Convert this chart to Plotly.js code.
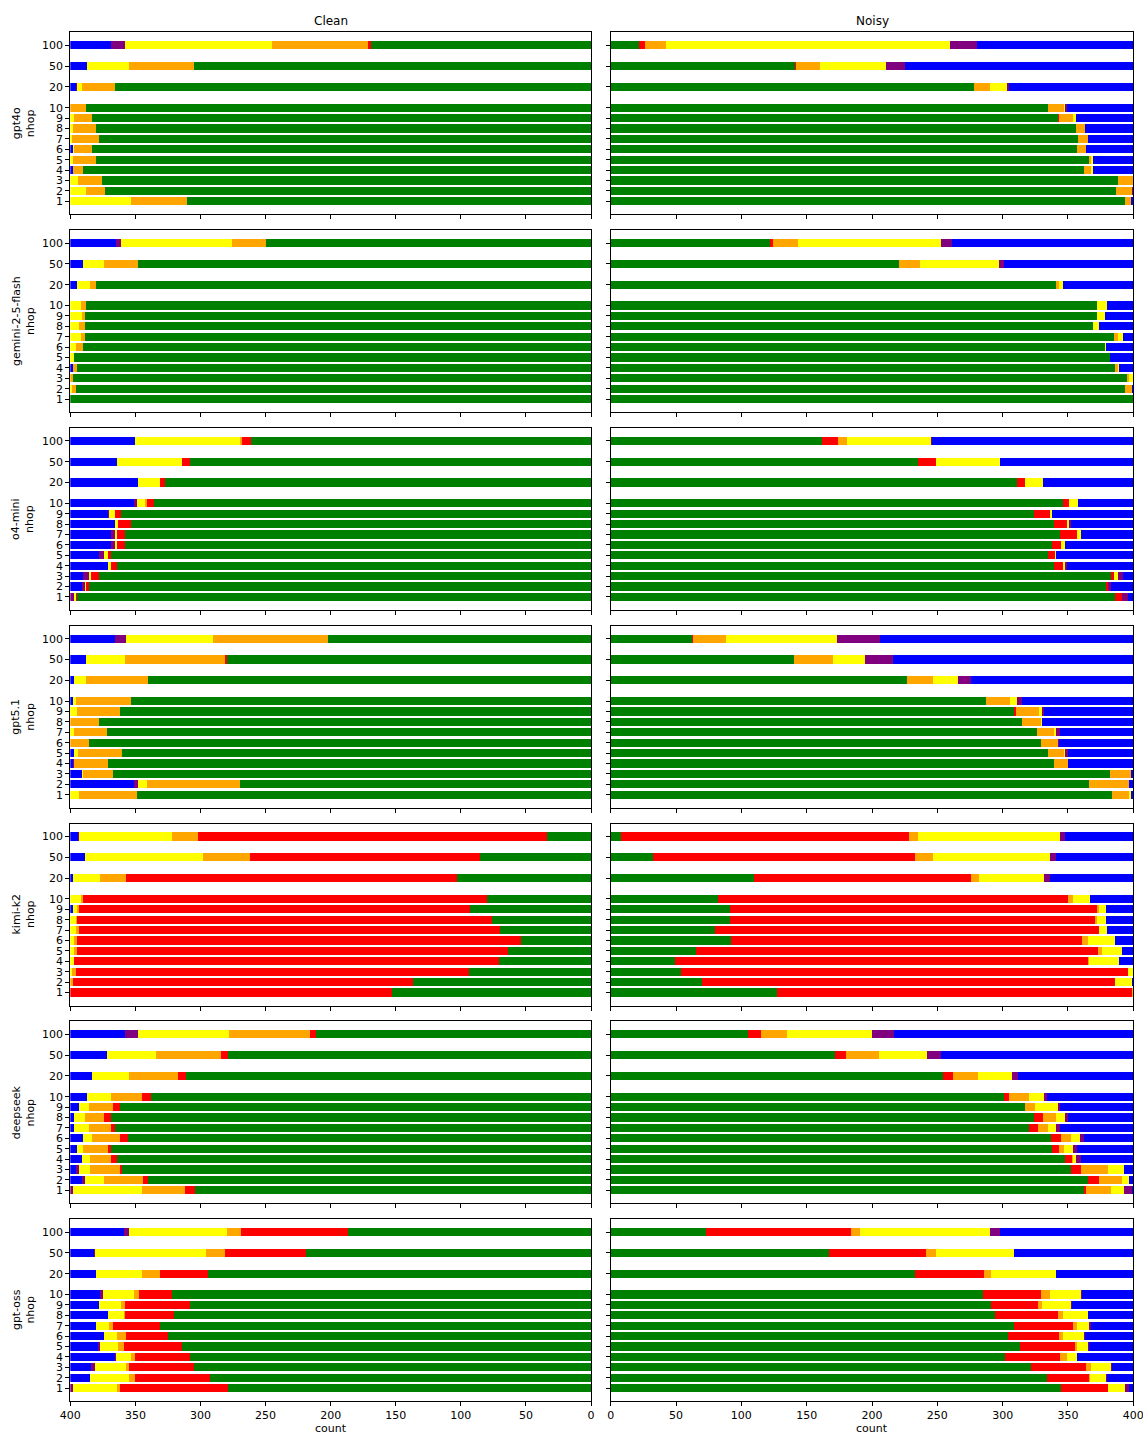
<!DOCTYPE html>
<html>
<head>
<meta charset="utf-8">
<script src="https://cdn.plot.ly/plotly-3.0.1.min.js"></script>
<style>html,body{margin:0;padding:0;background:#fff;}#chart{width:1143px;height:1435px;}</style>
</head>
<body>
<div id="chart"></div>
<script>
// ---- categories ----
const nhopLabels = ['1','2','3','4','5','6','7','8','9','10','20','50','100'];
const models = ['gpt4o','gemini-2-5-flash','o4-mini','gpt5.1','kimi-k2','deepseek','gpt-oss'];
const conditions = ['Clean','Noisy'];
const xTickVals = [0,50,100,150,200,250,300,350,400];
const outcomeColors = ['#008000','#ff0000','#ffa500','#ffff00','#800080','#0000ff']; // green, red, orange, yellow, purple, blue

// ---- values (order of nhop: 1..10, 20, 50, 100) ----
// gpt4o
const gpt4o_clean_green  = [310,373,376,390,380,383,378,380,383,388,366,305,169];
const gpt4o_clean_red    = [0,0,0,0,0,0,0,0,0,0,0,0,2];
const gpt4o_clean_orange = [43,15,18,8,18,14,21,18,14,12,25,50,74];
const gpt4o_clean_yellow = [47,12,6,0,2,1,1,2,3,0,4,32,113];
const gpt4o_clean_purple = [0,0,0,0,0,0,0,0,0,0,1,0,11];
const gpt4o_clean_blue   = [0,0,0,2,0,2,0,0,0,0,4,13,31];
const gpt4o_noisy_green  = [394,387,388,362,366,357,358,356,342,335,278,141,22];
const gpt4o_noisy_red    = [0,0,0,0,0,0,0,0,1,0,0,1,4];
const gpt4o_noisy_orange = [4,12,12,6,2,7,7,7,11,12,12,18,16];
const gpt4o_noisy_yellow = [0,0,0,1,1,0,0,0,2,1,13,51,218];
const gpt4o_noisy_purple = [0,1,0,0,0,0,0,0,0,1,2,14,20];
const gpt4o_noisy_blue   = [2,0,0,31,31,36,35,37,44,51,95,175,120];
// gemini-2-5-flash
const gemini_clean_green  = [400,396,398,395,397,390,389,389,389,388,380,348,250];
const gemini_clean_red    = [0,0,0,0,0,0,0,0,0,0,0,0,0];
const gemini_clean_orange = [0,3,2,3,0,6,3,4,2,4,5,26,26];
const gemini_clean_yellow = [0,1,0,0,3,4,8,7,9,8,10,16,85];
const gemini_clean_purple = [0,0,0,0,0,0,0,0,0,0,0,0,4];
const gemini_clean_blue   = [0,0,0,2,0,0,0,0,0,0,5,10,35];
const gemini_noisy_green  = [400,394,395,386,382,378,385,369,372,372,341,221,122];
const gemini_noisy_red    = [0,0,0,0,0,0,0,0,0,0,0,0,2];
const gemini_noisy_orange = [0,5,2,2,0,0,3,0,0,0,2,16,19];
const gemini_noisy_yellow = [0,0,3,1,0,1,4,5,6,8,3,60,110];
const gemini_noisy_purple = [0,0,0,0,0,0,0,0,0,0,0,4,8];
const gemini_noisy_blue   = [0,1,0,11,18,21,8,26,22,20,54,99,139];
// o4-mini
const o4mini_clean_green  = [395,386,378,364,369,358,358,353,361,336,327,308,261];
const o4mini_clean_red    = [1,2,6,5,2,6,6,10,5,5,4,6,7];
const o4mini_clean_orange = [0,0,0,0,0,0,0,0,0,2,0,0,2];
const o4mini_clean_yellow = [1,1,2,2,3,2,2,3,4,6,17,50,80];
const o4mini_clean_purple = [3,2,4,0,4,3,3,0,1,2,0,0,0];
const o4mini_clean_blue   = [0,9,10,29,22,31,31,34,29,49,52,36,50];
const o4mini_noisy_green  = [386,379,383,339,335,338,344,339,324,346,311,235,162];
const o4mini_noisy_red    = [5,2,2,7,5,7,13,10,12,5,6,14,12];
const o4mini_noisy_orange = [0,0,0,0,0,0,0,0,0,0,0,0,7];
const o4mini_noisy_yellow = [0,0,3,2,1,3,3,2,2,7,14,49,64];
const o4mini_noisy_purple = [5,2,4,1,0,0,0,1,0,0,0,0,1];
const o4mini_noisy_blue   = [4,17,8,51,59,52,40,48,62,42,69,102,154];
// gpt5.1
const gpt51_clean_green  = [349,270,367,371,360,386,372,378,362,353,340,280,202];
const gpt51_clean_red    = [0,0,0,0,0,0,0,0,0,0,0,1,0];
const gpt51_clean_orange = [44,71,23,26,34,14,25,22,33,43,48,77,88];
const gpt51_clean_yellow = [7,7,1,0,3,0,3,0,5,2,9,30,67];
const gpt51_clean_purple = [0,3,0,1,0,0,0,0,0,0,0,0,9];
const gpt51_clean_blue   = [0,49,9,2,3,0,0,0,0,2,3,12,34];
const gpt51_noisy_green  = [384,366,382,339,335,329,326,315,309,287,227,140,62];
const gpt51_noisy_red    = [0,0,0,0,0,0,0,0,1,0,0,0,1];
const gpt51_noisy_orange = [13,31,16,11,12,13,13,14,18,19,20,30,25];
const gpt51_noisy_yellow = [1,0,0,0,1,0,2,1,2,5,19,25,85];
const gpt51_noisy_purple = [0,0,0,0,2,1,3,0,2,4,10,21,33];
const gpt51_noisy_blue   = [2,3,2,50,50,57,56,70,68,85,124,184,194];
// kimi-k2
const kimi_clean_green  = [153,137,94,71,64,54,70,76,93,80,103,85,34];
const kimi_clean_red    = [247,261,302,326,331,341,323,319,300,310,254,177,268];
const kimi_clean_orange = [0,2,3,0,2,2,3,1,2,2,20,36,20];
const kimi_clean_yellow = [0,0,1,3,3,3,4,4,3,8,21,91,71];
const kimi_clean_purple = [0,0,0,0,0,0,0,0,0,0,0,0,1];
const kimi_clean_blue   = [0,0,0,0,0,0,0,0,2,0,2,11,6];
const kimi_noisy_green  = [127,70,54,49,65,92,80,91,91,82,110,32,8];
const kimi_noisy_red    = [272,316,342,316,308,269,294,280,281,268,166,201,220];
const kimi_noisy_orange = [1,0,0,1,3,4,0,1,2,4,6,14,7];
const kimi_noisy_yellow = [0,13,4,23,15,21,6,7,5,13,50,89,109];
const kimi_noisy_purple = [0,0,0,0,0,0,0,0,0,0,4,5,4];
const kimi_noisy_blue   = [0,1,0,11,9,14,20,21,21,33,64,59,52];
// deepseek
const deepseek_clean_green  = [304,340,360,364,369,356,366,369,362,338,311,279,211];
const deepseek_clean_red    = [8,4,2,5,2,6,3,5,5,7,6,5,5];
const deepseek_clean_orange = [33,30,23,16,19,21,17,15,19,24,38,50,62];
const deepseek_clean_yellow = [53,15,8,6,5,7,11,8,7,18,28,38,70];
const deepseek_clean_purple = [2,2,3,0,0,0,0,0,0,0,0,0,10];
const deepseek_clean_blue   = [0,9,4,9,5,10,3,3,7,13,17,28,42];
const deepseek_noisy_green  = [362,365,352,348,338,337,320,324,317,301,254,172,105];
const deepseek_noisy_red    = [2,9,8,5,5,8,7,7,0,4,8,8,10];
const deepseek_noisy_orange = [19,17,21,1,4,7,8,10,8,15,19,25,20];
const deepseek_noisy_yellow = [10,6,12,2,7,7,6,7,17,12,26,37,65];
const deepseek_noisy_purple = [6,0,0,4,3,3,3,2,2,2,5,11,17];
const deepseek_noisy_blue   = [1,3,7,40,43,38,56,50,56,66,88,147,183];
// gpt-oss
const gptoss_clean_green  = [279,293,305,308,314,325,331,320,308,322,294,219,187];
const gptoss_clean_red    = [83,57,50,42,45,32,36,38,50,25,37,62,82];
const gptoss_clean_orange = [2,5,2,3,4,7,3,1,3,4,14,15,11];
const gptoss_clean_yellow = [34,30,24,12,14,10,10,12,17,24,35,85,75];
const gptoss_clean_purple = [2,0,3,1,2,0,0,0,0,2,0,1,4];
const gptoss_clean_blue   = [0,15,16,34,21,26,20,29,22,23,20,18,41];
const gptoss_noisy_green  = [345,334,322,302,313,304,309,294,291,285,233,167,73];
const gptoss_noisy_red    = [36,32,42,42,42,39,45,48,36,44,53,74,111];
const gptoss_noisy_orange = [0,1,4,5,2,3,3,4,3,7,5,8,7];
const gptoss_noisy_yellow = [13,12,15,8,8,16,9,19,22,24,50,60,99];
const gptoss_noisy_purple = [3,1,1,0,1,1,2,0,1,1,0,0,8];
const gptoss_noisy_blue   = [3,20,16,43,34,37,32,35,47,39,59,91,102];

// panels: [model row][condition] -> series in stacking order (green, red, orange, yellow, purple, blue)
const panelSeries = [
  [[gpt4o_clean_green,gpt4o_clean_red,gpt4o_clean_orange,gpt4o_clean_yellow,gpt4o_clean_purple,gpt4o_clean_blue],
   [gpt4o_noisy_green,gpt4o_noisy_red,gpt4o_noisy_orange,gpt4o_noisy_yellow,gpt4o_noisy_purple,gpt4o_noisy_blue]],
  [[gemini_clean_green,gemini_clean_red,gemini_clean_orange,gemini_clean_yellow,gemini_clean_purple,gemini_clean_blue],
   [gemini_noisy_green,gemini_noisy_red,gemini_noisy_orange,gemini_noisy_yellow,gemini_noisy_purple,gemini_noisy_blue]],
  [[o4mini_clean_green,o4mini_clean_red,o4mini_clean_orange,o4mini_clean_yellow,o4mini_clean_purple,o4mini_clean_blue],
   [o4mini_noisy_green,o4mini_noisy_red,o4mini_noisy_orange,o4mini_noisy_yellow,o4mini_noisy_purple,o4mini_noisy_blue]],
  [[gpt51_clean_green,gpt51_clean_red,gpt51_clean_orange,gpt51_clean_yellow,gpt51_clean_purple,gpt51_clean_blue],
   [gpt51_noisy_green,gpt51_noisy_red,gpt51_noisy_orange,gpt51_noisy_yellow,gpt51_noisy_purple,gpt51_noisy_blue]],
  [[kimi_clean_green,kimi_clean_red,kimi_clean_orange,kimi_clean_yellow,kimi_clean_purple,kimi_clean_blue],
   [kimi_noisy_green,kimi_noisy_red,kimi_noisy_orange,kimi_noisy_yellow,kimi_noisy_purple,kimi_noisy_blue]],
  [[deepseek_clean_green,deepseek_clean_red,deepseek_clean_orange,deepseek_clean_yellow,deepseek_clean_purple,deepseek_clean_blue],
   [deepseek_noisy_green,deepseek_noisy_red,deepseek_noisy_orange,deepseek_noisy_yellow,deepseek_noisy_purple,deepseek_noisy_blue]],
  [[gptoss_clean_green,gptoss_clean_red,gptoss_clean_orange,gptoss_clean_yellow,gptoss_clean_purple,gptoss_clean_blue],
   [gptoss_noisy_green,gptoss_noisy_red,gptoss_noisy_orange,gptoss_noisy_yellow,gptoss_noisy_purple,gptoss_noisy_blue]]
];

// ---- geometry ----
const W = 1143, H = 1435;
const colX = [[70.3, 591], [610.7, 1133.3]];
const rowTop0 = 32.3, rowStep = 197.8, panelH = 182;
const FONT = 'DejaVu Sans, Liberation Sans, sans-serif';
// slot position: nhop 1..10 on 1..10, then 20/50/100 with a gap
const slot = i => (i < 10 ? i + 1 : 10 + 2 * (i - 9));
const yPos = nhopLabels.map((_, i) => slot(i));

const traces = [];
const layout = {
  width: W, height: H,
  margin: {l: 0, r: 0, t: 0, b: 0},
  paper_bgcolor: '#ffffff', plot_bgcolor: '#ffffff',
  barmode: 'stack', showlegend: false,
  font: {family: FONT, size: 11, color: '#000'},
  annotations: []
};

for (let r = 0; r < models.length; r++) {
  const top = rowTop0 + rowStep * r, bot = top + panelH;
  const yDom = [1 - bot / H, 1 - top / H];
  for (let c = 0; c < 2; c++) {
    const k = r * 2 + c + 1;
    const xName = k === 1 ? 'xaxis' : 'xaxis' + k;
    const yName = k === 1 ? 'yaxis' : 'yaxis' + k;
    const xRef = k === 1 ? 'x' : 'x' + k;
    const yRef = k === 1 ? 'y' : 'y' + k;
    panelSeries[r][c].forEach((vals, s) => {
      traces.push({
        type: 'bar', orientation: 'h',
        x: vals, y: yPos, width: 0.8,
        marker: {color: outcomeColors[s], line: {width: 0}},
        xaxis: xRef, yaxis: yRef, hoverinfo: 'skip', showlegend: false
      });
    });
    layout[xName] = {
      domain: [colX[c][0] / W, colX[c][1] / W],
      anchor: yRef,
      range: c === 0 ? [400, 0] : [0, 400],
      tickvals: xTickVals, ticktext: xTickVals.map(String),
      showticklabels: r === models.length - 1,
      ticklabeloverflow: 'allow',
      ticks: 'outside', ticklen: 4, tickwidth: 1, tickcolor: '#000',
      showline: true, mirror: true, linecolor: '#000', linewidth: 1,
      showgrid: false, zeroline: false,
      tickfont: {family: FONT, size: 11, color: '#000'}
    };
    layout[yName] = {
      domain: yDom,
      anchor: xRef,
      range: [-0.25, 17.25],
      tickvals: yPos, ticktext: nhopLabels,
      showticklabels: c === 0,
      ticks: 'outside', ticklen: 4, tickwidth: 1, tickcolor: '#000',
      showline: true, mirror: true, linecolor: '#000', linewidth: 1,
      showgrid: false, zeroline: false,
      tickfont: {family: FONT, size: 11, color: '#000'}
    };
  }
  // y label (model + nhop)
  layout.annotations.push({
    xref: 'paper', yref: 'paper', x: 23 / W, y: 1 - (top + bot) / 2 / H,
    xanchor: 'center', yanchor: 'middle', textangle: -90, showarrow: false,
    text: models[r] + '<br>nhop', font: {family: FONT, size: 11, color: '#000'}
  });
}

// column titles and x-axis labels
conditions.forEach((t, c) => {
  layout.annotations.push({
    xref: 'paper', yref: 'paper', x: (colX[c][0] + colX[c][1]) / 2 / W, y: 1 - 21 / H,
    xanchor: 'center', yanchor: 'middle', showarrow: false,
    text: t, font: {family: FONT, size: 12, color: '#000'}
  });
  layout.annotations.push({
    xref: 'paper', yref: 'paper', x: (colX[c][0] + colX[c][1]) / 2 / W, y: 1 - 1428 / H,
    xanchor: 'center', yanchor: 'middle', showarrow: false,
    text: 'count', font: {family: FONT, size: 11, color: '#000'}
  });
});

Plotly.newPlot('chart', traces, layout, {displayModeBar: false, staticPlot: true});
</script>
</body>
</html>
